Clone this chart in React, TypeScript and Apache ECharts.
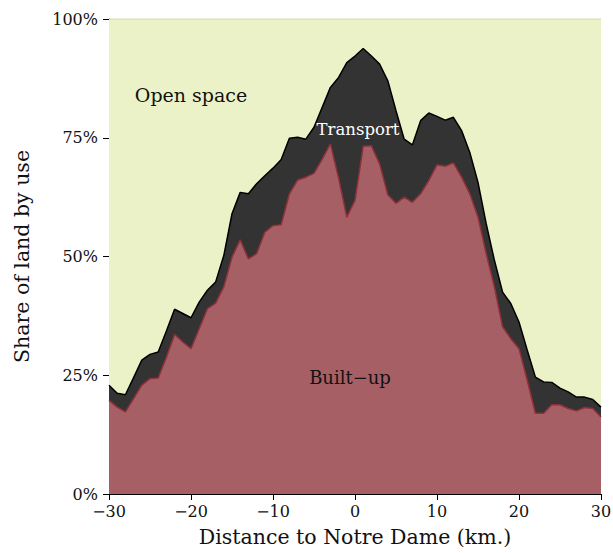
import React, { useEffect, useRef } from "react";
import * as echarts from "echarts";

const distance = [
  -30, -29, -28, -27, -26, -25, -24, -23, -22, -21, -20, -19, -18, -17, -16, -15, -14, -13, -12, -11,
  -10, -9, -8, -7, -6, -5, -4, -3, -2, -1, 0, 1, 2, 3, 4, 5, 6, 7, 8, 9,
  10, 11, 12, 13, 14, 15, 16, 17, 18, 19, 20, 21, 22, 23, 24, 25, 26, 27, 28, 29, 30,
];

const builtUp = [
  19.7, 18.3, 17.3, 20.1, 22.9, 24.3, 24.4, 28.8, 33.6, 32.0, 30.6, 34.8, 39.0, 40.2, 43.6, 49.9, 53.5, 49.5, 50.6, 55.1,
  56.5, 56.7, 63.2, 66.1, 66.7, 67.5, 70.5, 73.7, 66.5, 58.3, 61.8, 73.2, 73.3, 69.5, 63.0, 61.2, 62.5, 61.4, 63.2, 66.0,
  69.3, 69.0, 69.7, 66.7, 63.2, 58.3, 50.6, 43.6, 35.2, 32.7, 30.6, 24.0, 17.0, 17.0, 18.8, 18.8, 18.0, 17.5, 18.2, 18.0, 16.2,
];

const transport = [
  3.2, 2.9, 3.6, 4.4, 5.3, 5.1, 5.5, 5.5, 5.3, 6.0, 6.5, 5.6, 3.9, 4.4, 6.6, 9.1, 10.0, 13.7, 14.7, 11.9,
  12.1, 13.7, 11.7, 9.0, 8.0, 9.7, 10.9, 11.9, 21.2, 32.5, 30.4, 20.6, 18.9, 21.0, 24.0, 19.5, 12.2, 12.1, 15.4, 14.2,
  10.2, 9.7, 9.6, 9.8, 8.7, 7.3, 6.3, 5.6, 7.3, 7.4, 5.6, 6.3, 7.6, 6.6, 4.7, 3.5, 3.5, 2.9, 2.2, 1.9, 2.1,
];

const openSpace = [
  77.1, 78.8, 79.1, 75.5, 71.8, 70.6, 70.1, 65.7, 61.1, 62.0, 62.9, 59.6, 57.1, 55.4, 49.8, 41.0, 36.5, 36.8, 34.7, 33.0,
  31.4, 29.6, 25.1, 24.9, 25.3, 22.8, 18.6, 14.4, 12.3, 9.2, 7.8, 6.2, 7.8, 9.5, 13.0, 19.3, 25.3, 26.5, 21.4, 19.8,
  20.5, 21.3, 20.7, 23.5, 28.1, 34.4, 43.1, 50.8, 57.5, 59.9, 63.8, 69.7, 75.4, 76.4, 76.5, 77.7, 78.5, 79.6, 79.6, 80.1, 81.7,
];

const xTickStep = 10;
const yTicks = [0, 25, 50, 75, 100];

const FONT = "'DejaVu Serif', 'Liberation Serif', serif";

const fmtNum = (v: number) => (v < 0 ? "\u2212" + Math.abs(v) : String(v));

export default function App() {
  const ref = useRef<HTMLDivElement>(null);
  useEffect(() => {
    if (!ref.current) return;
    document.body.style.margin = "0";
    const chart = echarts.init(ref.current, null, { renderer: "svg" });
    const showTick = (i: number) => (distance[i] - distance[0]) % xTickStep === 0;
    chart.setOption({
      animation: false,
      backgroundColor: "#ffffff",
      textStyle: { fontFamily: FONT },
      grid: { left: 109, top: 19, width: 492, height: 475, containLabel: false, outerBoundsMode: "none" },
      xAxis: {
        type: "category",
        boundaryGap: false,
        data: distance.map(String),
        name: "Distance to Notre Dame (km.)",
        nameLocation: "middle",
        nameGap: 32,
        nameTextStyle: { fontSize: 20.5, color: "#111", fontFamily: FONT },
        axisLine: { show: true, lineStyle: { color: "#000", width: 1 } },
        axisTick: { show: true, length: 6, interval: showTick, lineStyle: { color: "#000" } },
        axisLabel: {
          fontSize: 16,
          color: "#111",
          fontFamily: FONT,
          margin: 9,
          interval: showTick,
          formatter: (v: string) => fmtNum(Number(v)),
        },
        splitLine: { show: false },
      },
      yAxis: {
        type: "value",
        min: yTicks[0],
        max: yTicks[yTicks.length - 1],
        interval: 25,
        name: "Share of land by use",
        nameLocation: "middle",
        nameGap: 77,
        nameTextStyle: { fontSize: 20.5, color: "#111", fontFamily: FONT },
        axisLine: { show: true, lineStyle: { color: "#000", width: 1 } },
        axisTick: { show: true, length: 6, lineStyle: { color: "#000" } },
        axisLabel: { fontSize: 16, color: "#111", fontFamily: FONT, margin: 11, formatter: "{value}%" },
        splitLine: { show: false },
      },
      series: [
        {
          name: "Built-up",
          type: "line",
          stack: "land",
          symbol: "none",
          data: builtUp,
          lineStyle: { color: "#8e3039", width: 1.5 },
          areaStyle: { color: "#a65f65", opacity: 1 },
          z: 3,
        },
        {
          name: "Transport",
          type: "line",
          stack: "land",
          symbol: "none",
          data: transport,
          lineStyle: { color: "#000000", width: 1.5 },
          areaStyle: { color: "#333333", opacity: 1 },
          z: 2,
        },
        {
          name: "Open space",
          type: "line",
          stack: "land",
          symbol: "none",
          data: openSpace,
          lineStyle: { color: "#d9dfb2", width: 1.5 },
          areaStyle: { color: "#ecf2c8", opacity: 1 },
          z: 1,
        },
      ],
      graphic: [
        {
          type: "text",
          x: 191,
          y: 95,
          style: { text: "Open space", font: `19px ${FONT}`, fill: "#111", textAlign: "center", textVerticalAlign: "middle" },
          z: 10,
        },
        {
          type: "text",
          x: 358,
          y: 129,
          style: { text: "Transport", font: `16.5px ${FONT}`, fill: "#ffffff", textAlign: "center", textVerticalAlign: "middle" },
          z: 10,
        },
        {
          type: "text",
          x: 350,
          y: 377,
          style: { text: "Built\u2212up", font: `18px ${FONT}`, fill: "#111", textAlign: "center", textVerticalAlign: "middle" },
          z: 10,
        },
      ],
    });
    return () => chart.dispose();
  }, []);
  return <div ref={ref} style={{ width: 613, height: 553 }} />;
}
